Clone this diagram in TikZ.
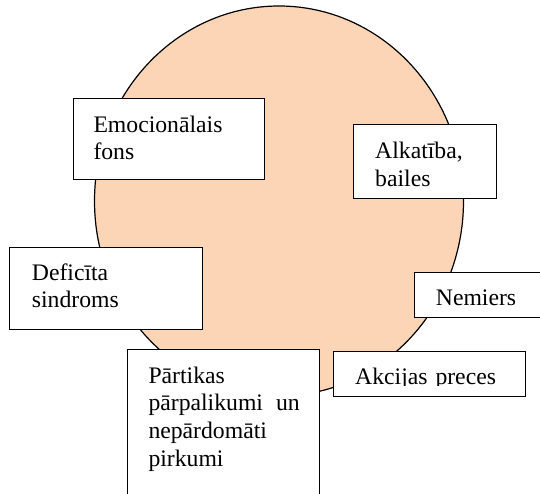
\documentclass[tikz,border=0pt]{standalone}
\usepackage{fontspec}
\setmainfont{Liberation Serif}
\usetikzlibrary{shapes.geometric}
\definecolor{peach}{HTML}{FBD5B5}
\begin{document}
\begin{tikzpicture}[x=1pt,y=-1pt,
  roundst/.style={draw=black,line width=1.2pt,fill=peach,ellipse,inner sep=0pt},
  boxst/.style={draw=black,line width=0.9pt,fill=white,rectangle,inner sep=0pt,anchor=north west},
  txt/.style={anchor=base west,inner sep=0pt,text width=200pt,align=left,font=\fontsize{23.7}{27.6}\selectfont}]
\clip (0,0) rectangle (540,494);
\node[roundst,minimum width=369pt,minimum height=390pt] (bg) at (279,201) {};
% boxes
\node[boxst,minimum width=191.3pt,minimum height=81.6pt] (emo) at (72.7,97.7) {};
\node[boxst,minimum width=142.4pt,minimum height=73.4pt] (alk) at (353.3,124.3) {};
\node[boxst,minimum width=193pt,minimum height=81.7pt] (def) at (9,247.3) {};
\node[boxst,minimum width=145.7pt,minimum height=45pt] (nem) at (414.3,271.7) {};
\node[boxst,minimum width=192.3pt,minimum height=45pt] (akc) at (332.7,350.7) {};
\node[boxst,minimum width=192pt,minimum height=160.7pt] (par) at (127.3,349.3) {};
% texts
\node[txt] (emot) at ([shift={(20.6,34.6)}]emo.north west) {Emocionālais\\fons};
\node[txt] (alkt) at ([shift={(21.7,34.7)}]alk.north west) {Alkatība,\\bailes};
\node[txt] (deft) at ([shift={(22.7,32.7)}]def.north west) {Deficīta\\sindroms};
\node[txt] (nemt) at ([shift={(21.4,33.3)}]nem.north west) {Nemiers};
\begin{scope}
\clip (akc.north west) rectangle ([shift={(0,34.8)}]akc.north east);
\node[txt] (akct) at ([shift={(22.3,33.3)}]akc.north west) {Akcijas preces};
\end{scope}
\node[txt] (part) at ([shift={(21,34)}]par.north west) {Pārtikas\\pārpalikumi\hspace{13pt}un\\nepārdomāti\\pirkumi};
\end{tikzpicture}
\end{document}
